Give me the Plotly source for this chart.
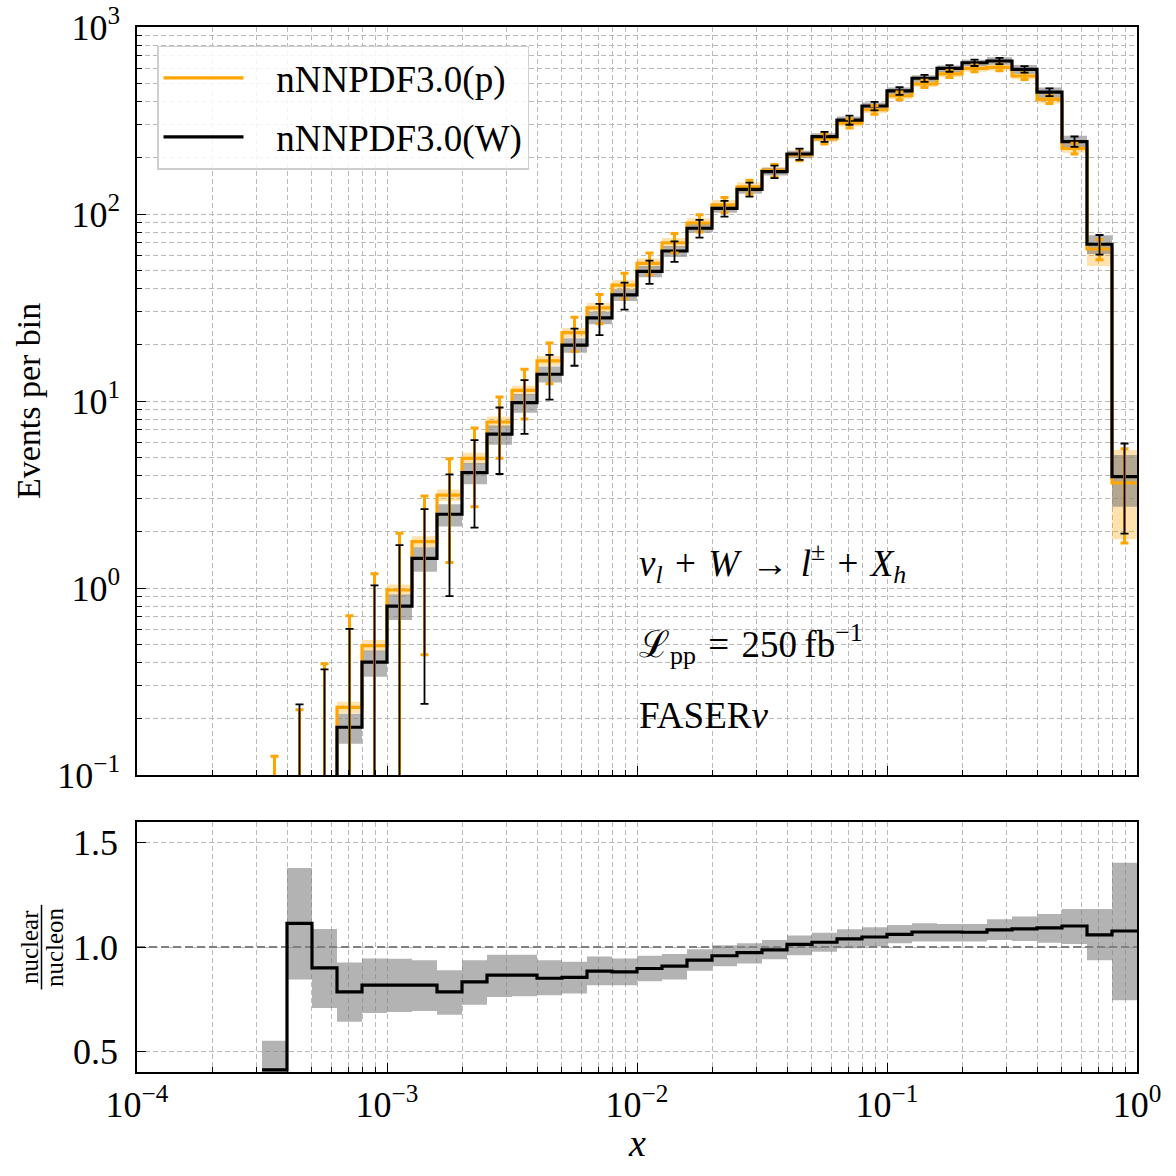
import plotly.graph_objects as go

# ---------------- data ----------------
edge_exp = [-3.5, -3.4, -3.3, -3.2, -3.1, -3.0, -2.9, -2.8, -2.7, -2.6, -2.5, -2.4,
            -2.3, -2.2, -2.1, -2.0, -1.9, -1.8, -1.7, -1.6, -1.5, -1.4, -1.3, -1.2,
            -1.1, -1.0, -0.9, -0.8, -0.7, -0.6, -0.5, -0.4, -0.3, -0.2, -0.1, 0.0]

p_events = [0.0128, 0.0352, 0.0911, 0.230, 0.492, 0.976, 1.77, 3.14, 4.94, 7.72,
            11.4, 16.4, 23.2, 31.5, 41.7, 54.5, 70.2, 89.5, 112, 139.5,
            171, 207, 253, 306, 361, 429, 497, 561, 601, 608,
            547, 410, 224, 65.0, 3.65]
w_events = [0.0052, 0.0395, 0.0816, 0.180, 0.401, 0.800, 1.44, 2.48, 4.14, 6.65,
            9.8, 13.9, 19.9, 27.8, 36.9, 49.3, 63.4, 83.9, 107.3, 135.5,
            168.4, 209.4, 259, 318, 378, 455, 532, 601, 644, 658,
            594, 448, 244, 68.9, 3.94]

p_stat = [0.113, 0.188, 0.302, 0.480, 0.701, 0.988, 1.330, 1.772, 2.223, 2.778,
          3.376, 4.050, 4.817, 5.612, 6.458, 7.382, 8.379, 9.460, 10.583, 11.811,
          13.077, 14.387, 15.906, 17.493, 19.000, 20.712, 22.293, 23.685, 24.515, 24.658,
          23.388, 20.248, 14.967, 8.062, 1.910]
w_stat = [0.072, 0.199, 0.286, 0.424, 0.633, 0.894, 1.200, 1.575, 2.035, 2.579,
          3.130, 3.728, 4.461, 5.273, 6.075, 7.021, 7.962, 9.160, 10.359, 11.640,
          12.977, 14.471, 16.093, 17.833, 19.442, 21.331, 23.065, 24.515, 25.377, 25.652,
          24.372, 21.166, 15.620, 8.301, 1.985]

# relative PDF uncertainty of the proton (orange) prediction
p_unc_lo = [0.08, 0.08, 0.08, 0.07, 0.07, 0.07, 0.07, 0.07, 0.07, 0.07,
            0.06, 0.06, 0.06, 0.06, 0.06, 0.06, 0.06, 0.06, 0.06, 0.06,
            0.04, 0.04, 0.04, 0.04, 0.04, 0.04, 0.04, 0.04, 0.04, 0.04,
            0.04, 0.05, 0.05, 0.19, 0.50]
p_unc_hi = [0.08, 0.08, 0.08, 0.07, 0.07, 0.07, 0.07, 0.07, 0.07, 0.07,
            0.06, 0.06, 0.06, 0.06, 0.06, 0.06, 0.06, 0.06, 0.06, 0.06,
            0.04, 0.04, 0.04, 0.04, 0.04, 0.04, 0.04, 0.04, 0.04, 0.04,
            0.04, 0.05, 0.05, 0.04, 0.50]

ratio = [0.41, 1.114, 0.900, 0.785, 0.817, 0.817, 0.817, 0.785, 0.833, 0.865,
         0.865, 0.850, 0.854, 0.884, 0.881, 0.897, 0.908, 0.937, 0.958, 0.973,
         0.986, 1.013, 1.023, 1.039, 1.048, 1.061, 1.072, 1.072, 1.071, 1.082,
         1.087, 1.092, 1.101, 1.058, 1.077]
ratio_lo = [0.30, 0.844, 0.707, 0.641, 0.683, 0.688, 0.693, 0.675, 0.723, 0.760,
            0.764, 0.768, 0.777, 0.817, 0.817, 0.836, 0.844, 0.886, 0.908, 0.921,
            0.941, 0.961, 0.977, 0.994, 1.002, 1.018, 1.026, 1.026, 1.026, 1.034,
            1.029, 1.021, 1.014, 0.937, 0.744]
ratio_hi = [0.55, 1.379, 1.087, 0.926, 0.945, 0.944, 0.937, 0.889, 0.937, 0.963,
            0.963, 0.936, 0.929, 0.955, 0.945, 0.958, 0.966, 0.989, 1.008, 1.018,
            1.034, 1.055, 1.069, 1.085, 1.095, 1.106, 1.114, 1.111, 1.111, 1.133,
            1.146, 1.159, 1.182, 1.182, 1.404]

x_tick_exp = [-4, -3, -2, -1, 0]
y_tick_exp = [-1, 0, 1, 2, 3]
ratio_ticks = [0.5, 1.0, 1.5]
labels = ["nNNPDF3.0(p)", "nNNPDF3.0(W)"]

# ---------------- derived structures ----------------
edges = [10 ** e for e in edge_exp]
centers = [10 ** ((a + b) / 2) for a, b in zip(edge_exp[:-1], edge_exp[1:])]


def step(vals):
    return list(vals) + [vals[-1]]


p_lo = [v * (1 - u) for v, u in zip(p_events, p_unc_lo)]
p_hi = [v * (1 + u) for v, u in zip(p_events, p_unc_hi)]
w_lo = [w * rl / r for w, rl, r in zip(w_events, ratio_lo, ratio)]
w_hi = [w * rh / r for w, rh, r in zip(w_events, ratio_hi, ratio)]

ORANGE = "#FFA500"
FONT = "Liberation Serif"
GRID = "#b9b9b9"
DASH = "5px,3px"

fig = go.Figure()

# main panel bands
fig.add_trace(go.Scatter(x=edges, y=step(p_lo), mode="lines", line=dict(width=0, shape="hv"),
                         showlegend=False, hoverinfo="skip", xaxis="x", yaxis="y"))
fig.add_trace(go.Scatter(x=edges, y=step(p_hi), mode="lines", line=dict(width=0, shape="hv"),
                         fill="tonexty", fillcolor="rgba(255,165,0,0.32)",
                         showlegend=False, hoverinfo="skip", xaxis="x", yaxis="y"))
fig.add_trace(go.Scatter(x=edges, y=step(w_lo), mode="lines", line=dict(width=0, shape="hv"),
                         showlegend=False, hoverinfo="skip", xaxis="x", yaxis="y"))
fig.add_trace(go.Scatter(x=edges, y=step(w_hi), mode="lines", line=dict(width=0, shape="hv"),
                         fill="tonexty", fillcolor="rgba(128,128,128,0.6)",
                         showlegend=False, hoverinfo="skip", xaxis="x", yaxis="y"))

# main panel step lines
NB = "\u00a0\u00a0\u00a0"
fig.add_trace(go.Scatter(x=edges, y=step(p_events), mode="lines", name=NB + labels[0],
                         legendgroup="p", line=dict(color=ORANGE, width=3.2, shape="hv"),
                         xaxis="x", yaxis="y"))
fig.add_trace(go.Scatter(x=edges, y=step(w_events), mode="lines", name=NB + labels[1],
                         legendgroup="w", line=dict(color="black", width=3.2, shape="hv"),
                         xaxis="x", yaxis="y"))

# statistical error bars
fig.add_trace(go.Scatter(x=centers, y=p_events, mode="markers",
                         marker=dict(size=1, color="rgba(0,0,0,0)"),
                         error_y=dict(type="data", array=p_stat, color=ORANGE, thickness=3, width=4),
                         showlegend=False, hoverinfo="skip", xaxis="x", yaxis="y"))
fig.add_trace(go.Scatter(x=centers, y=w_events, mode="markers",
                         marker=dict(size=1, color="rgba(0,0,0,0)"),
                         error_y=dict(type="data", array=w_stat, color="black", thickness=1.8, width=4),
                         showlegend=False, hoverinfo="skip", xaxis="x", yaxis="y"))

# ratio panel
fig.add_trace(go.Scatter(x=edges, y=step(ratio_lo), mode="lines", line=dict(width=0, shape="hv"),
                         showlegend=False, hoverinfo="skip", xaxis="x2", yaxis="y2"))
fig.add_trace(go.Scatter(x=edges, y=step(ratio_hi), mode="lines", line=dict(width=0, shape="hv"),
                         fill="tonexty", fillcolor="rgba(128,128,128,0.6)",
                         showlegend=False, hoverinfo="skip", xaxis="x2", yaxis="y2"))
fig.add_trace(go.Scatter(x=[10 ** x_tick_exp[0], 10 ** x_tick_exp[-1]], y=[1.0, 1.0], mode="lines",
                         line=dict(color="#808080", width=2, dash="8px,4px"),
                         showlegend=False, hoverinfo="skip", xaxis="x2", yaxis="y2"))
fig.add_trace(go.Scatter(x=edges, y=step(ratio), mode="lines",
                         line=dict(color="black", width=3.2, shape="hv"),
                         showlegend=False, hoverinfo="skip", xaxis="x2", yaxis="y2"))

# ---------------- axes ----------------
x_major = [10 ** e for e in x_tick_exp]
x_text = ["10<sup>\u2212%d</sup>" % (-e) if e < 0 else "10<sup>%d</sup>" % e for e in x_tick_exp]
x_minor = [m * 10 ** e for e in x_tick_exp[:-1] for m in range(2, 10)]
y_major = [10 ** e for e in y_tick_exp]
y_text = ["10<sup>\u2212%d</sup>" % (-e) if e < 0 else "10<sup>%d</sup>" % e for e in y_tick_exp]
y_minor = [m * 10 ** e for e in y_tick_exp[:-1] for m in range(2, 10)]

tickfont = dict(family=FONT, size=36, color="black")
common = dict(showline=True, linecolor="black", linewidth=1.6, mirror=True,
              ticks="inside", ticklen=9, tickwidth=1.4, tickcolor="black",
              showgrid=True, gridcolor=GRID, gridwidth=1, griddash=DASH,
              zeroline=False, tickfont=tickfont, automargin=False)

minor_x = dict(tickmode="array", tickvals=x_minor, ticks="inside", ticklen=5, tickwidth=1.1,
               tickcolor="black", showgrid=True, gridcolor=GRID, gridwidth=1, griddash=DASH)
minor_y = dict(tickmode="array", tickvals=y_minor, ticks="inside", ticklen=5, tickwidth=1.1,
               tickcolor="black", showgrid=True, gridcolor=GRID, gridwidth=1, griddash=DASH)

fig.update_layout(
    width=1176, height=1176,
    margin=dict(l=137, r=39, t=27, b=104, autoexpand=False),
    paper_bgcolor="white", plot_bgcolor="white",
    font=dict(family=FONT, size=36, color="black"),
    xaxis=dict(type="log", range=[-4, 0], domain=[0, 1], anchor="y", matches="x2",
               tickmode="array", tickvals=x_major, ticktext=x_text, showticklabels=False,
               minor=minor_x, **common),
    yaxis=dict(type="log", range=[-1, 3], domain=[0.2842, 1], anchor="x",
               tickmode="array", tickvals=y_major, ticktext=y_text,
               minor=minor_y, ticklabelstandoff=8, **common),
    xaxis2=dict(type="log", range=[-4, 0], domain=[0, 1], anchor="y2",
                tickmode="array", tickvals=x_major, ticktext=x_text,
                minor=minor_x, ticklabelstandoff=0, **common),
    yaxis2=dict(range=[0.4, 1.6], domain=[0, 0.2392], anchor="x2",
                tickmode="array", tickvals=ratio_ticks,
                ticktext=["%.1f" % t for t in ratio_ticks], ticklabelstandoff=10, **common),
    legend=dict(x=0.02, y=0.982, xanchor="left", yanchor="top",
                bgcolor="rgba(255,255,255,0.85)", bordercolor="#cfcfcf", borderwidth=1.5,
                font=dict(family=FONT, size=37, color="black"),
                itemwidth=80, tracegroupgap=8),
    showlegend=True,
)

# ---------------- text ----------------
ann_font = dict(family=FONT, size=37, color="black")
SP = "\u2004"
fig.add_annotation(text="<i>\u03bd</i><sub><i>l</i></sub>" + SP + "+" + SP + "<i>W</i>" + SP + "\u2192" + SP
                        + "<i>l</i><sup>\u00b1</sup>" + SP + "+" + SP + "<i>X</i><sub><i>h</i></sub>",
                   xref="paper", yref="paper", x=0.5, y=0.487, xanchor="left", yanchor="middle",
                   showarrow=False, font=ann_font)
fig.add_annotation(text="\u2112<sub>pp</sub>" + SP + "=" + SP + "250\u2009fb<sup>\u22121</sup>",
                   xref="paper", yref="paper", x=0.5, y=0.41, xanchor="left", yanchor="middle",
                   showarrow=False, font=ann_font)
fig.add_annotation(text="FASER<i>\u03bd</i>",
                   xref="paper", yref="paper", x=0.5, y=0.341, xanchor="left", yanchor="middle",
                   showarrow=False, font=ann_font)

fig.add_annotation(text="Events per bin", xref="paper", yref="paper", x=-0.109, y=0.642,
                   xanchor="center", yanchor="middle", textangle=-90, showarrow=False,
                   font=dict(family=FONT, size=34, color="black"))
fig.add_annotation(text="<i>x</i>", xref="paper", yref="paper", x=0.5, y=-0.068,
                   xanchor="center", yanchor="middle", showarrow=False,
                   font=dict(family=FONT, size=38, color="black"))
frac_font = dict(family=FONT, size=25, color="black")
fig.add_annotation(text="nuclear", xref="paper", yref="paper", x=-0.108, y=0.1196,
                   xanchor="center", yanchor="middle", textangle=-90, showarrow=False, font=frac_font)
fig.add_annotation(text="nucleon", xref="paper", yref="paper", x=-0.083, y=0.1196,
                   xanchor="center", yanchor="middle", textangle=-90, showarrow=False, font=frac_font)
fig.add_shape(type="line", xref="paper", yref="paper", x0=-0.0955, x1=-0.0955, y0=0.079, y1=0.160,
              line=dict(color="black", width=1.5))

fig.write_html("out.html")
